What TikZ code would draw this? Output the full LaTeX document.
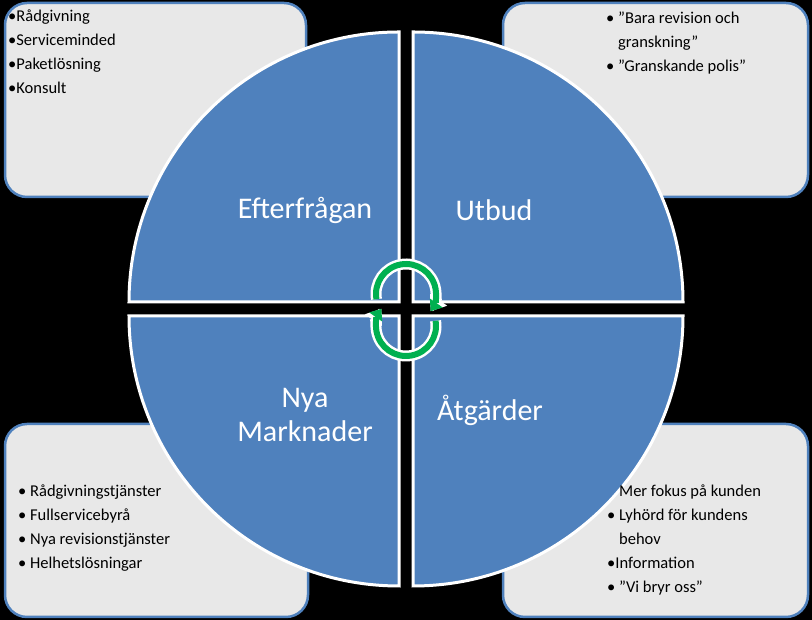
\documentclass[tikz,border=0pt]{standalone}
\usepackage{fontspec}
\setmainfont{Carlito}
\usetikzlibrary{arrows.meta}
\definecolor{quadblue}{HTML}{4F81BD}
\definecolor{boxgray}{HTML}{E8E8E8}
\definecolor{cyclegreen}{HTML}{00B050}
\newcommand{\qq}{\symbol{34}}
\tikzset{
  infobox/.style={draw=quadblue, line width=2.5pt, fill=boxgray, rounded corners=22pt},
  quad/.style={fill=quadblue, draw=white, line width=3pt},
  quadlabel/.style={text=white, font=\fontsize{30}{34}\selectfont, align=center},
  itemlist/.style={font=\fontsize{16.5}{24}\selectfont, align=left, anchor=north west, inner sep=0pt},
  cycleback/.style={draw=white, line width=11pt, -{Triangle[length=14pt,width=20pt]}},
  cyclefront/.style={draw=cyclegreen, line width=6pt, -{Triangle[length=10pt,width=15pt]}},
}
\begin{document}
\begin{tikzpicture}[x=1pt,y=1pt]

  % Background
  \fill[black] (0,0) rectangle (812,620);
  \useasboundingbox (0,0) rectangle (812,620);

  % Corner boxes
  \draw[infobox] (5,423) rectangle (306,617);
  \draw[infobox] (503,423) rectangle (808,617);
  \draw[infobox] (5,3) rectangle (308,196);
  \draw[infobox] (503,3) rectangle (808,196);

  % Quadrants
  \draw[quad] (399,318) -- (129,318) arc[start angle=180, end angle=90, radius=270pt] -- cycle;
  \draw[quad] (413,318) -- (413,588) arc[start angle=90, end angle=0, radius=270pt] -- cycle;
  \draw[quad] (399,304) -- (399,34) arc[start angle=270, end angle=180, radius=270pt] -- cycle;
  \draw[quad] (413,304) -- (683,304) arc[start angle=0, end angle=-90, radius=270pt] -- cycle;

  % Quadrant labels
  \node[quadlabel] (eft) at (305,410) {Efterfrågan};
  \node[quadlabel] (utb) at (494,410) {Utbud};
  \node[quadlabel] (nya) at (305,205) {Nya\\Marknader};
  \node[quadlabel] (atg) at (490,210) {Åtgärder};

  % Cycle arrows
  \coordinate (ct) at (406,326);
  \coordinate (cb) at (406,294);
  \draw[cycleback] ([shift={(190:30)}]ct) arc[start angle=190, end angle=-35, radius=30pt];
  \draw[cyclefront] ([shift={(190:30)}]ct) arc[start angle=190, end angle=-35, radius=30pt];
  \draw[cycleback] ([shift={(10:30)}]cb) arc[start angle=10, end angle=-215, radius=30pt];
  \draw[cyclefront] ([shift={(10:30)}]cb) arc[start angle=10, end angle=-215, radius=30pt];

  % Lists
  \node[itemlist] (tl) at (8,610) {•Rådgivning\\•Serviceminded\\•Paketlösning\\•Konsult};
  \node[itemlist] (tr) at (606,608) {• \qq Bara revision och\\\phantom{• }granskning\qq\\• \qq Granskande polis\qq};
  \node[itemlist] (bl) at (18,135) {• Rådgivningstjänster\\• Fullservicebyrå\\• Nya revisionstjänster\\• Helhetslösningar};
  \node[itemlist] (br) at (607,135) {\phantom{• }Mer fokus på kunden\\• Lyhörd för kundens\\\phantom{• }behov\\•Information\\• \qq Vi bryr oss\qq};

\end{tikzpicture}
\end{document}
